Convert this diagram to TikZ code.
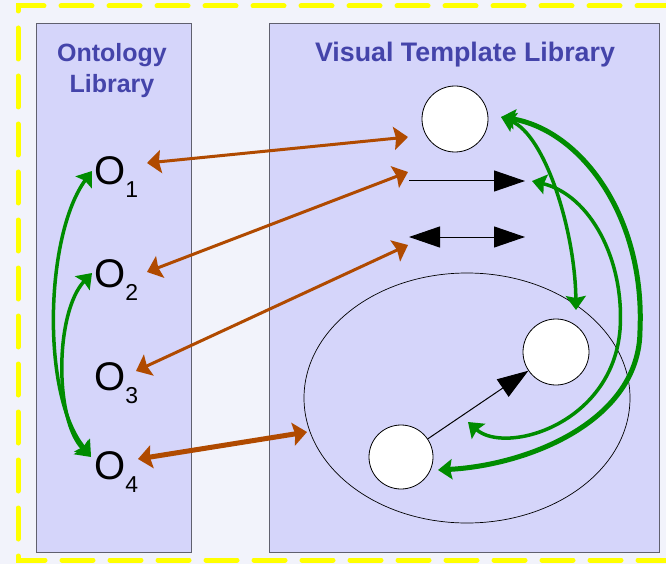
\documentclass[tikz,border=0pt]{standalone}
\usepackage{fontspec}
\setmainfont{Liberation Sans}
\usetikzlibrary{arrows.meta,shapes.geometric}
\definecolor{bgc}{RGB}{242,243,251}
\definecolor{panelc}{RGB}{213,213,250}
\definecolor{titlec}{RGB}{68,68,170}
\definecolor{brownc}{RGB}{176,74,0}
\definecolor{greenc}{RGB}{0,140,0}
\definecolor{framec}{RGB}{96,96,110}
\definecolor{dashc}{RGB}{255,255,0}
\newcommand\olab[1]{\fontsize{40}{40}\selectfont O\raisebox{-13pt}{\fontsize{23}{23}\selectfont #1}}
\begin{document}
\begin{tikzpicture}[x=1pt,y=-1pt,
  panel/.style={fill=panelc,draw=framec,line width=1pt},
  titletext/.style={text=titlec,font=\fontsize{25}{31}\selectfont\bfseries,align=center,anchor=base,inner sep=0pt},
  olabel/.style={anchor=base west,inner sep=0pt},
  tmpl/.style={circle,fill=white,draw=black,line width=0.8pt,minimum size=66pt,inner sep=0pt},
  brownarr/.style={draw=brownc,line width=3pt,{Stealth[length=14pt,width=23pt,inset=2pt]}-{Stealth[length=14pt,width=23pt,inset=2pt]}},
  greenarr/.style={draw=greenc,line width=3.5pt,{Stealth[length=14pt,width=20pt,inset=2pt]}-{Stealth[length=14pt,width=20pt,inset=2pt]}},
  blackarr/.style={draw=black,line width=1pt,-{Triangle[length=31pt,width=21pt]}},
  blackdbl/.style={draw=black,line width=1pt,{Triangle[length=31pt,width=21pt]}-{Triangle[length=31pt,width=21pt]}},
  yellowdash/.style={draw=dashc,line width=5pt,dash pattern=on 31pt off 17pt,line cap=round}
]
\useasboundingbox (0,0) rectangle (666,564);
\fill[bgc] (0,0) rectangle (666,564);
\draw[yellowdash] (668,6) -- (18,6) -- (18,560) -- (668,560);

% panels
\draw[panel] (36,24) rectangle (191,552);
\draw[panel] (269,24) rectangle (659,552);

% titles
\node[titletext] (tol) at (112,93) {Ontology\\Library};
\node[titletext,font=\fontsize{26.8}{31}\selectfont\bfseries] (tvt) at (465,62) {Visual Template Library};

% ontology labels
\node[olabel] (o1) at (94,185) {\olab{1}};
\node[olabel] (o2) at (94,287) {\olab{2}};
\node[olabel] (o3) at (94,390) {\olab{3}};
\node[olabel] (o4) at (94,479) {\olab{4}};

% templates
\node[draw=black,line width=0.7pt,ellipse,minimum width=326pt,minimum height=250pt,inner sep=0pt] (ell) at (467,398) {};
\node[tmpl] (c1) at (455,119) {};
\node[tmpl] (c2) at (556,352) {};
\node[tmpl,minimum size=64pt] (c3) at (401,457) {};

\coordinate (ta1s) at (409,181);
\coordinate (ta1e) at (525,181);
\coordinate (ta2s) at (409,237);
\coordinate (ta2e) at (525,237);
\draw[blackarr] (ta1s) -- (ta1e);
\draw[blackdbl] (ta2s) -- (ta2e);
\draw[blackarr] (c3) -- (c2);

% brown mapping arrows
\coordinate (b1a) at (147,163);
\coordinate (b1b) at (408,137);
\coordinate (b2a) at (147,272);
\coordinate (b2b) at (408,172);
\coordinate (b3a) at (136,371);
\coordinate (b3b) at (408,245);
\coordinate (b4a) at (138,459);
\coordinate (b4b) at (307,432);
\draw[brownarr] (b1a) -- (b1b);
\draw[brownarr] (b2a) -- (b2b);
\draw[brownarr] (b3a) -- (b3b);
\draw[brownarr,line width=5pt] (b4a) -- (b4b);

% green arrows, ontology side
\coordinate (g1a) at (92,171);
\coordinate (g1b) at (91,456);
\coordinate (g2a) at (92,273);
\coordinate (g2b) at (91,457);
\draw[greenarr] (g1a) .. controls (45,235) and (41,395) .. (g1b);
\draw[greenarr] (g2a) .. controls (55,312) and (54,420) .. (g2b);

% green arrows, template side
\coordinate (g3a) at (501,117);
\coordinate (g3b) at (576,310);
\coordinate (g4a) at (532,181);
\coordinate (g4m) at (620,330);
\coordinate (g4b) at (468,422);
\coordinate (g5m) at (640,330);
\coordinate (g5b) at (438,470);
\draw[greenarr] (g3a) .. controls (545,135) and (575,230) .. (g3b);
\draw[greenarr] (g4a) .. controls (590,195) and (625,260) .. (g4m) .. controls (612,425) and (505,455) .. (g4b);
\draw[greenarr,line width=5pt] (g3a) .. controls (580,130) and (645,215) .. (g5m) .. controls (640,420) and (530,465) .. (g5b);
\end{tikzpicture}
\end{document}
